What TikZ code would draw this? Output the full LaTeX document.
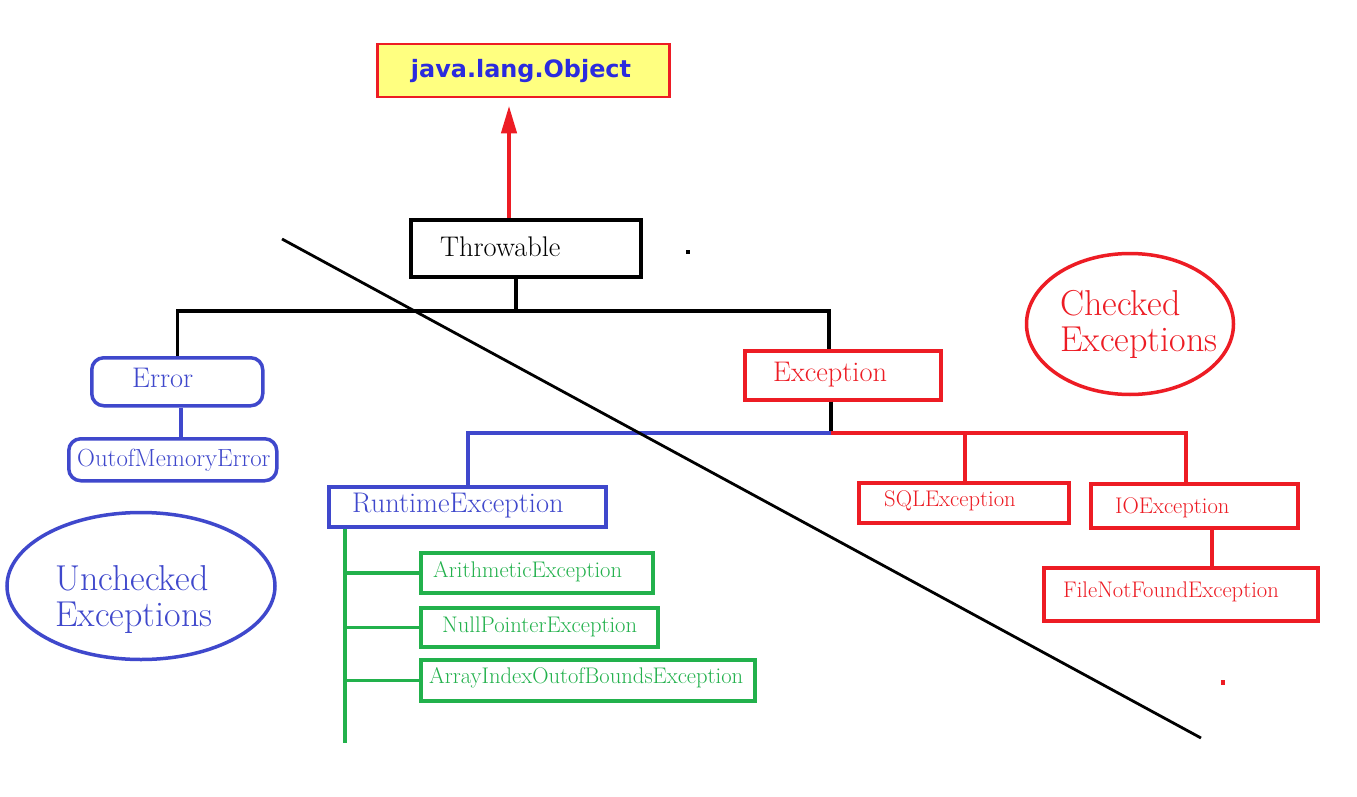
\documentclass[tikz,border=0pt]{standalone}
\usepackage{fontspec}
\usetikzlibrary{shapes.geometric,arrows.meta}
\newfontfamily\objfont{DejaVu Sans}
\definecolor{pblue}{HTML}{3F48CC}
\definecolor{pred}{HTML}{ED1C24}
\definecolor{pgreen}{HTML}{22B14C}
\definecolor{pyellow}{HTML}{FFFF80}
\definecolor{objblue}{HTML}{2B2BDE}
\begin{document}
\begin{tikzpicture}[x=1pt,y=-1pt,line join=miter,
  mybox/.style={draw,rectangle,line width=3.5pt,inner sep=0pt,anchor=north west},
  rbox/.style={mybox,rounded corners=12pt},
  lab/.style={inner sep=0pt,anchor=base west},
  fA/.style={font=\fontsize{28.4}{33}\selectfont},
  fB/.style={font=\fontsize{22.6}{27}\selectfont},
  fC/.style={font=\fontsize{24.8}{29}\selectfont},
  fD/.style={font=\fontsize{36}{36}\selectfont},
  conn/.style={line width=3.5pt}]
\useasboundingbox (0,0) rectangle (1357,797);
\fill[white] (0,0) rectangle (1357,797);

% java.lang.Object
\node[mybox,draw=pred,line width=2.5pt,fill=pyellow,minimum width=292,minimum height=53] (obj) at (376,43) {};
\node[inner sep=0pt,anchor=base,text=objblue,font=\objfont\bfseries\fontsize{23.9}{28}\selectfont] (objt) at (521,78) {java.lang.Object};

% Throwable
\node[mybox,minimum width=230,minimum height=57] (thr) at (409,218) {};
\node[lab,fA] (thrt) at (440,256) {Throwable};
\coordinate (ax) at (509,0);
\draw[pred,line width=4.5pt,shorten >=7pt,-{Triangle[width=15pt,length=28pt]}] (thr.north -| ax) -- (obj.south -| ax);

% dots
\fill (686,250) rectangle (690,254);
\fill[pred] (1221,680) rectangle (1225,685);

% Error
\node[rbox,draw=pblue,minimum width=171,minimum height=48] (err) at (90,356) {};
\node[lab,fA,text=pblue] (errt) at (132,387) {Error};
\node[rbox,draw=pblue,minimum width=208,minimum height=42] (oom) at (67,437) {};
\node[lab,fC,text=pblue] (oomt) at (77,466) {OutofMemoryError};

% Exception
\node[mybox,draw=pred,minimum width=196,minimum height=49] (exc) at (743,349) {};
\node[lab,fA,text=pred] (exct) at (773,381) {Exception};

% RuntimeException
\node[mybox,draw=pblue,minimum width=277,minimum height=40] (rt) at (327,485) {};
\node[lab,fA,text=pblue] (rtt) at (352,512) {RuntimeException};

% green children
\node[mybox,draw=pgreen,minimum width=232,minimum height=40] (ar) at (419,551) {};
\node[lab,fB,text=pgreen] (art) at (433,577) {ArithmeticException};
\node[mybox,draw=pgreen,minimum width=237,minimum height=39] (np) at (419,606) {};
\node[lab,fB,text=pgreen] (npt) at (442,632) {NullPointerException};
\node[mybox,draw=pgreen,minimum width=334,minimum height=41] (ai) at (419,658) {};
\node[lab,fB,text=pgreen] (ait) at (429,683) {ArrayIndexOutofBoundsException};

% red children
\node[mybox,draw=pred,minimum width=210,minimum height=40] (sql) at (857,481) {};
\node[lab,fB,text=pred] (sqlt) at (884,506) {SQLException};
\node[mybox,draw=pred,minimum width=207,minimum height=44] (io) at (1089,482) {};
\node[lab,fB,text=pred] (iot) at (1115,513) {IOException};
\node[mybox,draw=pred,minimum width=274,minimum height=53] (fnf) at (1042,566) {};
\node[lab,fB,text=pred] (fnft) at (1063,597) {FileNotFoundException};

% ellipses
\node[ellipse,draw=pblue,line width=3.5pt,inner sep=0pt,minimum width=268,minimum height=147] (unc) at (141,586) {};
\node[inner sep=0pt,anchor=base west,align=left,fD,text=pblue] (unct) at (55,626) {Unchecked\\Exceptions};
\node[ellipse,draw=pred,line width=3.5pt,inner sep=0pt,minimum width=207,minimum height=141] (chk) at (1130,324) {};
\node[inner sep=0pt,anchor=base west,align=left,fD,text=pred] (chkt) at (1060,351) {Checked\\Exceptions};

% connectors
\coordinate (j1) at (516,311);
\coordinate (jx) at (829,311);
\draw[conn] (thr.south -| j1) -- (j1);
\draw[conn] (err.north) |- (jx) -- (exc.north -| jx);
\coordinate (eo) at (181,0);
\draw[conn,pblue] (err.south -| eo) -- (oom.north -| eo);
\coordinate (k) at (831,433);
\coordinate (kb) at (468,433);
\coordinate (ks) at (965,433);
\coordinate (ki) at (1186,433);
\draw[conn] (exc.south -| k) -- (k);
\draw[conn,pblue] (k) -- (kb) -- (rt.north -| kb);
\draw[conn,pred] (k) -- (ki) -- (io.north -| ki);
\draw[conn,pred] (ks) -- (sql.north -| ks);
\coordinate (fi) at (1212,0);
\draw[conn,pred] (io.south -| fi) -- (fnf.north -| fi);
\coordinate (g) at (345,743);
\draw[conn,pgreen] (rt.south -| g) -- (g);
\draw[conn,pgreen] (ar.west -| g) -- (ar.west);
\draw[conn,pgreen] (np.west -| g) -- (np.west);
\draw[conn,pgreen] (ai.west -| g) -- (ai.west);

% diagonal divider
\coordinate (d1) at (282,239);
\coordinate (d2) at (1201,738);
\draw[line width=2.8pt] (d1) -- (d2);
\end{tikzpicture}
\end{document}
